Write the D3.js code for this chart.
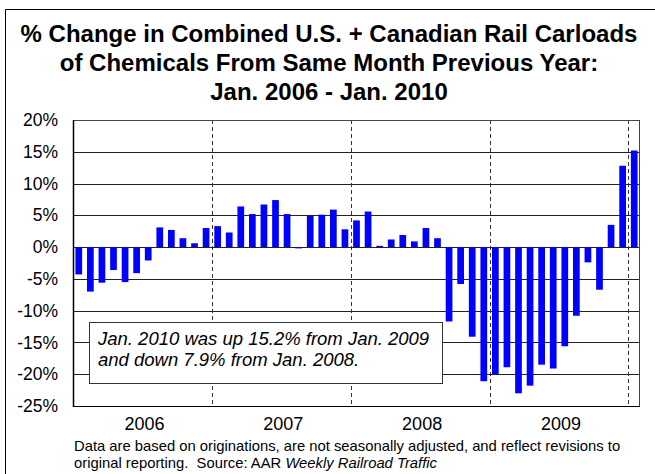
<!DOCTYPE html>
<html>
<head>
<meta charset="utf-8">
<script src="https://cdn.jsdelivr.net/npm/d3@7"></script>
<style>
  body { margin: 0; background: #fff; }
  svg { display: block; font-family: Arial, "Liberation Sans", sans-serif; }
</style>
</head>
<body>
<svg id="chart" width="655" height="474"></svg>
<script>
// ---- data ----
const months = [
  "2006-01","2006-02","2006-03","2006-04","2006-05","2006-06","2006-07","2006-08","2006-09","2006-10","2006-11","2006-12",
  "2007-01","2007-02","2007-03","2007-04","2007-05","2007-06","2007-07","2007-08","2007-09","2007-10","2007-11","2007-12",
  "2008-01","2008-02","2008-03","2008-04","2008-05","2008-06","2008-07","2008-08","2008-09","2008-10","2008-11","2008-12",
  "2009-01","2009-02","2009-03","2009-04","2009-05","2009-06","2009-07","2009-08","2009-09","2009-10","2009-11","2009-12",
  "2010-01"
];
const pctChange = [
  -4.3, -7.0, -5.6, -3.6, -5.5, -4.1, -2.1, 3.1, 2.7, 1.4, 0.6, 3.0,
  3.3, 2.3, 6.4, 5.2, 6.7, 7.4, 5.2, -0.2, 4.9, 5.1, 5.9, 2.8,
  4.2, 5.6, 0.2, 1.2, 1.9, 0.9, 3.0, 1.4, -11.7, -5.8, -14.1, -21.1,
  -20.0, -18.9, -23.0, -21.8, -18.5, -19.1, -15.6, -10.8, -2.4, -6.7, 3.5, 12.8,
  15.2
];
const yTicks = [20, 15, 10, 5, 0, -5, -10, -15, -20, -25];
const yearLabels = ["2006", "2007", "2008", "2009"];
const yearBoundaries = ["2007-01", "2008-01", "2009-01", "2010-01"];
const titleLines = [
  "% Change in Combined U.S. + Canadian Rail Carloads",
  "of Chemicals From Same Month Previous Year:",
  "Jan. 2006 - Jan. 2010"
];
const noteLines = [
  "Jan. 2010 was up 15.2% from Jan. 2009",
  "and down 7.9% from Jan. 2008."
];

// ---- layout ----
const svg = d3.select("#chart");
const L = 73, R = 640, T = 120, B = 406;

const x = d3.scaleBand().domain(months).range([L, R]).paddingInner(0.42).paddingOuter(0.21);
const y = d3.scaleLinear().domain([-25, 20]).range([B, T]);

// outer frame
svg.append("path")
  .attr("d", `M5.5,480 L5.5,9.5 L660,9.5`)
  .attr("fill", "none").attr("stroke", "#000").attr("stroke-width", 1);

// title
svg.append("g").selectAll("text").data(titleLines).join("text")
  .attr("x", 329).attr("y", (d, i) => 42 + i * 29)
  .attr("text-anchor", "middle")
  .attr("font-size", 24).attr("font-weight", "bold")
  .text(d => d);

// gridlines
svg.append("g").selectAll("line").data(yTicks).join("line")
  .attr("x1", L).attr("x2", R)
  .attr("y1", d => Math.round(y(d)) + 0.5).attr("y2", d => Math.round(y(d)) + 0.5)
  .attr("stroke", "#222").attr("stroke-width", 1);

// y labels via axis
const yAxis = d3.axisLeft(y).tickValues(yTicks).tickSize(0).tickPadding(15)
  .tickFormat(d => d + "%");
const yg = svg.append("g").attr("transform", `translate(${L},0)`).call(yAxis);
yg.select(".domain").remove();
yg.selectAll("text").attr("font-size", 17.5).attr("font-family", "Arial, 'Liberation Sans', sans-serif").attr("fill", "#000");

// year boundary dashed lines
const step = x.step();
const boundaryX = m => x(m) - step * x.paddingInner() / 2;
svg.append("g").selectAll("line").data(yearBoundaries).join("line")
  .attr("x1", d => Math.round(boundaryX(d)) + 0.5)
  .attr("x2", d => Math.round(boundaryX(d)) + 0.5)
  .attr("y1", T).attr("y2", B)
  .attr("stroke", "#333").attr("stroke-width", 1).attr("stroke-dasharray", "4,3");

// bars
svg.append("g").selectAll("rect").data(months).join("rect")
  .attr("x", d => x(d))
  .attr("width", x.bandwidth())
  .attr("y", (d, i) => y(Math.max(0, pctChange[i])))
  .attr("height", (d, i) => Math.abs(y(pctChange[i]) - y(0)))
  .attr("fill", "#0000ff");

// plot border
svg.append("rect")
  .attr("x", L + 0.5).attr("y", T + 0.5)
  .attr("width", R - L - 1).attr("height", B - T)
  .attr("fill", "none").attr("stroke", "#444").attr("stroke-width", 1);
svg.append("line").attr("x1", L + 0.5).attr("x2", L + 0.5).attr("y1", T).attr("y2", B + 1)
  .attr("stroke", "#000").attr("stroke-width", 1.5);
svg.append("line").attr("x1", L).attr("x2", R).attr("y1", B + 0.5).attr("y2", B + 0.5)
  .attr("stroke", "#000").attr("stroke-width", 1);

// year labels centered on each year band
svg.append("g").selectAll("text").data(yearLabels).join("text")
  .attr("x", (d, i) => (boundaryX(months[i * 12]) + boundaryX(months[i * 12 + 12] || months[48])) / 2 + 2)
  .attr("y", 430)
  .attr("text-anchor", "middle")
  .attr("font-size", 18)
  .text(d => d);

// annotation box
const note = svg.append("g");
note.append("rect")
  .attr("x", 89.5).attr("y", 322.5).attr("width", 353).attr("height", 61)
  .attr("fill", "#fff").attr("stroke", "#333").attr("stroke-width", 1);
note.selectAll("text").data(noteLines).join("text")
  .attr("x", 98).attr("y", (d, i) => 345 + i * 21)
  .attr("font-size", 18.5).attr("font-style", "italic")
  .text(d => d);

// footer
const foot = svg.append("g").attr("font-size", 14.8);
foot.append("text").attr("x", 74).attr("y", 451)
  .text("Data are based on originations, are not seasonally adjusted, and reflect revisions to");
const f2 = foot.append("text").attr("x", 74).attr("y", 468);
f2.append("tspan").text("original reporting.\u00A0\u00A0Source: AAR ");
f2.append("tspan").attr("font-style", "italic").text("Weekly Railroad Traffic");
</script>
</body>
</html>
